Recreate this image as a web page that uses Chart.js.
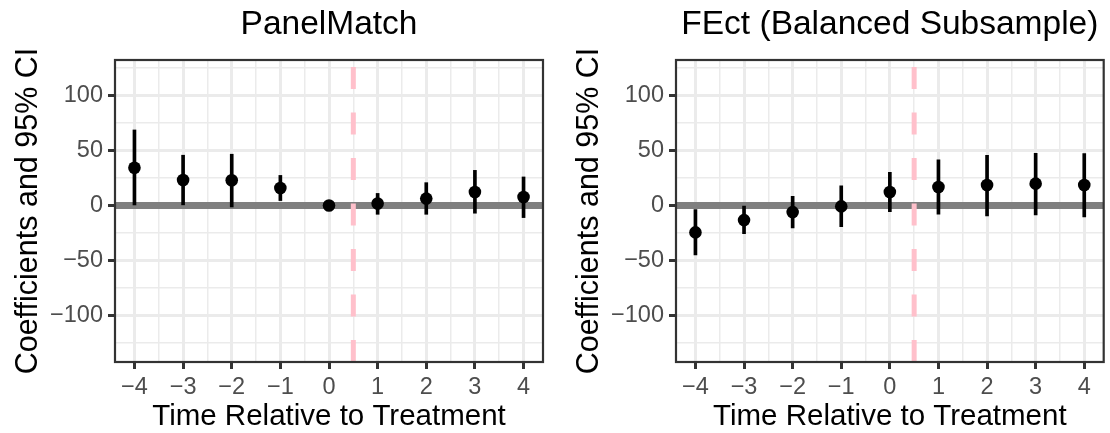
<!DOCTYPE html>
<html>
<head>
<meta charset="utf-8">
<script src="https://cdn.jsdelivr.net/npm/chart.js@4.4.0/dist/chart.umd.min.js"></script>
<style>
  html, body { margin: 0; padding: 0; background: #fff; }
  #wrap { position: relative; width: 1110px; height: 433px; }
  .panel { position: absolute; top: 0; width: 555px; height: 433px; }
</style>
</head>
<body>
<div id="wrap">
  <div class="panel" style="left:0"><canvas id="pm" width="555" height="433"></canvas></div>
  <div class="panel" style="left:555px"><canvas id="fe" width="555" height="433"></canvas></div>
</div>
<script>
// periods relative to treatment
const periods = [-4, -3, -2, -1, 0, 1, 2, 3, 4];

// PanelMatch estimates and 95% CI
const pmEst  = [34.4, 23.2, 23.0, 16.0, 0, 1.8, 6.3, 12.3, 7.8];
const pmLow  = [0.5, 0.6, -1.3, 4.5, 0, -8.0, -8.0, -7.0, -11.0];
const pmHigh = [68.8, 45.8, 46.7, 27.4, 0, 11.0, 20.8, 32.0, 26.0];

// FEct (balanced subsample) estimates and 95% CI
const feEst  = [-24.5, -13.3, -6.0, -0.8, 12.3, 16.9, 18.7, 19.9, 18.7];
const feLow  = [-45.0, -25.7, -20.3, -19.3, -5.5, -7.9, -9.4, -8.5, -10.3];
const feHigh = [-3.6, -0.6, 8.4, 18.0, 30.1, 41.6, 45.8, 47.6, 47.3];

const xTickLabels = ['\u22124', '\u22123', '\u22122', '\u22121', '0', '1', '2', '3', '4'];
const yTicks = [-100, -50, 0, 50, 100];
const yTickLabels = ['\u2212100', '\u221250', '0', '50', '100'];

const treatmentCut = 0.5;
const xLimits = [-4.4, 4.4];
const yLimits = [-142.5, 132.5];

Chart.defaults.font.family = '"Liberation Sans", Arial, sans-serif';
Chart.defaults.animation = false;

// minor grid positions halfway between major breaks
const xMinor = periods.slice(1).map((v, i) => (v + periods[i]) / 2);
const yStep = yTicks[1] - yTicks[0];
const yMinor = [yTicks[0] - yStep / 2]
  .concat(yTicks.slice(1).map((v, i) => (v + yTicks[i]) / 2))
  .concat([yTicks[yTicks.length - 1] + yStep / 2]);
const xAll = periods.concat(xMinor).sort((a, b) => a - b);
const yAll = yTicks.concat(yMinor).sort((a, b) => a - b);

const panelBorder = {
  id: 'panelBorder',
  afterDraw(chart) {
    const { ctx, chartArea: a } = chart;
    ctx.save();
    ctx.strokeStyle = '#333333';
    ctx.lineWidth = 2.2;
    ctx.strokeRect(a.left, a.top, a.width, a.height);
    ctx.restore();
  }
};

function makePanel(id, title, est, low, high, axisW, padRight, yTitlePad) {
  const ctx = document.getElementById(id).getContext('2d');
  return new Chart(ctx, {
    type: 'scatter',
    data: {
      datasets: [
        {
          type: 'scatter',
          data: periods.map((p, i) => ({ x: p, y: est[i] })),
          pointRadius: 6.3,
          pointBackgroundColor: '#000',
          pointBorderWidth: 0,
          order: 0
        },
        {
          type: 'bar',
          data: periods.map((p, i) => ({ x: p, y: [low[i], high[i]] })),
          backgroundColor: '#000',
          barThickness: 3,
          order: 1
        },
        {
          type: 'line',
          data: [{ x: treatmentCut, y: yLimits[0] }, { x: treatmentCut, y: yLimits[1] }],
          borderColor: '#FFC0CB',
          borderWidth: 5,
          borderDash: [22, 23.5],
          pointRadius: 0,
          order: 2
        },
        {
          type: 'line',
          data: [{ x: xLimits[0], y: 0 }, { x: xLimits[1], y: 0 }],
          borderColor: '#7F7F7F',
          borderWidth: 7,
          pointRadius: 0,
          order: 3
        }
      ]
    },
    options: {
      responsive: false,
      devicePixelRatio: 1,
      events: [],
      layout: { padding: { left: 0, right: padRight, top: 0, bottom: 0 } },
      plugins: {
        legend: { display: false },
        tooltip: { enabled: false },
        title: {
          display: true,
          text: title,
          fullSize: false,
          color: '#000',
          font: { size: 33.5, weight: 'normal' },
          padding: { top: 5, bottom: 14.8 }
        }
      },
      scales: {
        x: {
          type: 'linear',
          min: xLimits[0],
          max: xLimits[1],
          offset: false,
          afterBuildTicks: s => { s.ticks = xAll.map(v => ({ value: v })); },
          afterFit: s => { s.height = 71; },
          border: { display: false },
          grid: {
            offset: false,
            color: '#EBEBEB',
            lineWidth: c => periods.includes(c.tick.value) ? 3 : 1.5,
            tickColor: c => periods.includes(c.tick.value) ? '#333333' : 'rgba(0,0,0,0)',
            tickLength: 7,
            tickWidth: 3
          },
          ticks: {
            autoSkip: false,
            maxRotation: 0,
            padding: 4,
            color: '#4D4D4D',
            font: { size: 23.5 },
            callback: v => {
              const i = periods.indexOf(v);
              return i >= 0 ? xTickLabels[i] : '';
            }
          },
          title: {
            display: true,
            text: 'Time Relative to Treatment',
            color: '#000',
            font: { size: 29.5 },
            padding: { top: 0, bottom: -2 }
          }
        },
        y: {
          type: 'linear',
          min: yLimits[0],
          max: yLimits[1],
          afterBuildTicks: s => { s.ticks = yAll.map(v => ({ value: v })); },
          afterFit: s => { s.width = axisW; },
          border: { display: false },
          grid: {
            color: '#EBEBEB',
            lineWidth: c => yTicks.includes(c.tick.value) ? 3 : 1.5,
            tickColor: c => yTicks.includes(c.tick.value) ? '#333333' : 'rgba(0,0,0,0)',
            tickLength: 7,
            tickWidth: 3
          },
          ticks: {
            autoSkip: false,
            padding: 5,
            color: '#4D4D4D',
            font: { size: 23.5 },
            callback: v => {
              const i = yTicks.indexOf(v);
              return i >= 0 ? yTickLabels[i] : '';
            }
          },
          title: {
            display: true,
            text: 'Coefficients and 95% CI',
            color: '#000',
            font: { size: 30.5 },
            padding: { top: yTitlePad, bottom: 0 }
          }
        }
      }
    },
    plugins: [panelBorder]
  });
}

makePanel('pm', 'PanelMatch', pmEst, pmLow, pmHigh, 115, 12, 10);
makePanel('fe', 'FEct (Balanced Subsample)', feEst, feLow, feHigh, 121, 5, 16);
</script>
</body>
</html>
